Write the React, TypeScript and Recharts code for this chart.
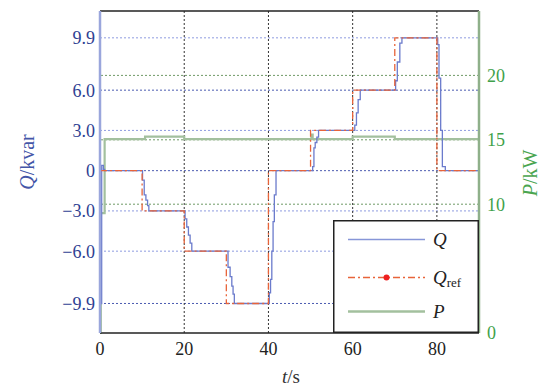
import React from "react";
import {
  LineChart,
  Line,
  XAxis,
  YAxis,
  ReferenceLine,
  Legend,
} from "recharts";

// time axis ticks and the two value axes
const timeTicks = [0, 20, 40, 60, 80];
const qTicks = [-9.9, -6, -3, 0, 3, 6, 9.9];
const pTicks = [0, 10, 15, 20];
const pGridLevels = [10, 15, 20];
const timeGrid = [20, 40, 60, 80];

// Q reference (step changes)
const refTime = [0, 10, 20, 30, 40, 50, 60, 70, 80, 90];
const refValue = [0, -3, -6, -9.9, 0, 3, 6, 9.9, 0, 0];

// measured Q (staircase transients after each step)
const qTime = [
  0, 0.4, 0.8, 1.1,
  10.1, 10.5, 10.9, 11.3, 11.6,
  20.2, 20.6, 21.0, 21.4, 21.8,
  30.4, 30.9, 31.3, 31.6, 31.9,
  40.2, 40.5, 40.8, 41.1, 41.4, 41.8,
  50.5, 50.8, 51.1, 51.5, 51.9,
  60.5, 60.9, 61.3, 61.8,
  70.2, 70.6, 71.2, 71.7,
  80.2, 80.5, 80.9, 81.3, 82.0,
  90,
];
const qValue = [
  -9.9, 0.4, 0.1, 0,
  -0.7, -1.8, -2.2, -2.6, -3.0,
  -3.6, -4.2, -4.8, -5.4, -6.0,
  -7.2, -7.9, -8.6, -9.2, -9.9,
  -9.1, -8.1, -6.0, -3.8, -1.8, 0,
  0.3, 1.7, 2.1, 2.5, 3.0,
  3.4, 4.3, 5.3, 6.0,
  6.7, 8.1, 9.5, 9.9,
  9.4, 6.9, 3.0, 0.3, 0,
  0,
];

// active power P
const pTime = [0, 0.2, 1.1, 10.7, 20, 50.2, 50.5, 60, 70, 90];
const pValue = [0, 9.3, 15.05, 15.25, 15.05, 15.4, 15.05, 15.25, 15.05, 15.05];

const refData = refTime.map((t, i) => ({ t, v: refValue[i] }));
const qData = qTime.map((t, i) => ({ t, v: qValue[i] }));
const pData = pTime.map((t, i) => ({ t, v: pValue[i] }));

const SERIF = "Liberation Serif";
const fontCss =
  "#root svg text, #root svg tspan { font-family: 'Liberation Serif', serif !important; }";

const fmtQ = (v: number) =>
  v === 0 ? "0" : (v < 0 ? "\u2212" : "") + Math.abs(v).toFixed(1);

const LegendBox = () => (
  <svg width={146} height={113} style={{ display: "block" }}>
    <rect x={0.75} y={0.75} width={144.5} height={111.5} fill="#fff" stroke="#222" strokeWidth={1.5} />
    <line x1={15} x2={92} y1={19.5} y2={19.5} stroke="#8796d8" strokeWidth={1.5} />
    <text x={100} y={26} fontFamily={SERIF} fontSize={19} fontStyle="italic" fill="#222">Q</text>
    <line x1={15} x2={92} y1={57.5} y2={57.5} stroke="#e8643a" strokeWidth={1.3} strokeDasharray="7 3 2 3" />
    <circle cx={53.5} cy={57.5} r={3} fill="#ee2020" />
    <text x={100} y={64} fontFamily={SERIF} fontSize={19} fill="#222">
      <tspan fontStyle="italic">Q</tspan>
      <tspan fontSize={13} dy={3}>ref</tspan>
    </text>
    <line x1={15} x2={92} y1={91.5} y2={91.5} stroke="#a3c09e" strokeWidth={2.5} />
    <text x={100} y={98} fontFamily={SERIF} fontSize={19} fontStyle="italic" fill="#222">P</text>
  </svg>
);

export default function App() {
  return (
    <div style={{ position: "absolute", left: 0, top: 0, background: "#fff" }}>
      <style>{fontCss}</style>
      <LineChart
        width={553}
        height={392}
        margin={{ top: 11, right: 0, left: 0, bottom: 0 }}
      >
        <XAxis
          dataKey="t"
          type="number"
          domain={[0, 90]}
          ticks={timeTicks}
          allowDuplicatedCategory={false}
          height={59}
          tickLine={false}
          tickSize={3}
          tickMargin={6}
          axisLine={{ stroke: "#222", strokeWidth: 1.5 }}
          tick={{ fill: "#222", fontSize: 18, fontFamily: SERIF }}
          label={() => (
            <text x={291} y={383} textAnchor="middle" fontFamily={SERIF} fontSize={19} fill="#333">
              <tspan fontStyle="italic">t</tspan>/s
            </text>
          )}
        />
        <YAxis
          yAxisId="q"
          orientation="left"
          type="number"
          domain={[-12.1, 11.9]}
          ticks={qTicks}
          interval={0}
          width={100}
          tickLine={false}
          tickSize={3}
          tickMargin={2}
          tickFormatter={fmtQ}
          axisLine={{ stroke: "#9aa6dc", strokeWidth: 2.5 }}
          tick={{ fill: "#2f3f92", fontSize: 18, fontFamily: SERIF }}
          label={() => (
            <text
              x={34}
              y={162}
              transform="rotate(-90 34 162)"
              textAnchor="middle"
              fontFamily={SERIF}
              fontSize={20}
              fill="#4456a8"
            >
              <tspan fontStyle="italic">Q</tspan>/kvar
            </text>
          )}
        />
        <YAxis
          yAxisId="p"
          orientation="right"
          type="number"
          domain={[0, 25]}
          ticks={pTicks}
          interval={0}
          width={74}
          tickLine={false}
          tickSize={6}
          tickMargin={2}
          axisLine={{ stroke: "#8fb08a", strokeWidth: 2.5 }}
          tick={{ fill: "#3fa14a", fontSize: 18, fontFamily: SERIF }}
          label={() => (
            <text
              x={537}
              y={173}
              transform="rotate(-90 537 173)"
              textAnchor="middle"
              fontFamily={SERIF}
              fontSize={20}
              fill="#4aa54f"
            >
              <tspan fontStyle="italic">P</tspan>/kW
            </text>
          )}
        />

        {qTicks.map((v) => (
          <ReferenceLine
            key={"q" + v}
            yAxisId="q"
            y={v}
            stroke={v === 0 || v === 6 || v === -9.9 ? "#4b5bb0" : "#8e9be0"}
            strokeDasharray="2 2"
            strokeWidth={1}
          />
        ))}
        {pGridLevels.map((v) => (
          <ReferenceLine
            key={"p" + v}
            yAxisId="p"
            y={v}
            stroke="#6f9a66"
            strokeDasharray="2 2"
            strokeWidth={1}
          />
        ))}
        {timeGrid.map((t) => (
          <ReferenceLine
            key={"t" + t}
            yAxisId="q"
            x={t}
            stroke="#333"
            strokeDasharray="2 2"
            strokeWidth={1}
          />
        ))}
        <ReferenceLine yAxisId="q" y={11.9} stroke="#222" strokeWidth={1.5} />

        <Line
          yAxisId="p"
          data={pData}
          dataKey="v"
          type="stepAfter"
          stroke="#a3c09e"
          strokeWidth={2.2}
          dot={false}
          isAnimationActive={false}
        />
        <Line
          yAxisId="q"
          data={qData}
          dataKey="v"
          type="stepAfter"
          stroke="#6b7bcc"
          strokeWidth={1.3}
          dot={false}
          isAnimationActive={false}
        />
        <Line
          yAxisId="q"
          data={refData}
          dataKey="v"
          type="stepAfter"
          stroke="#e8643a"
          strokeWidth={1.3}
          strokeDasharray="7 3 2 3"
          dot={false}
          isAnimationActive={false}
        />

        <Legend
          layout="horizontal"
          verticalAlign="middle"
          align="center"
          wrapperStyle={{ left: 333, top: 220, width: 146, height: 113, right: "auto", bottom: "auto" }}
          content={() => <LegendBox />}
        />
      </LineChart>
    </div>
  );
}
